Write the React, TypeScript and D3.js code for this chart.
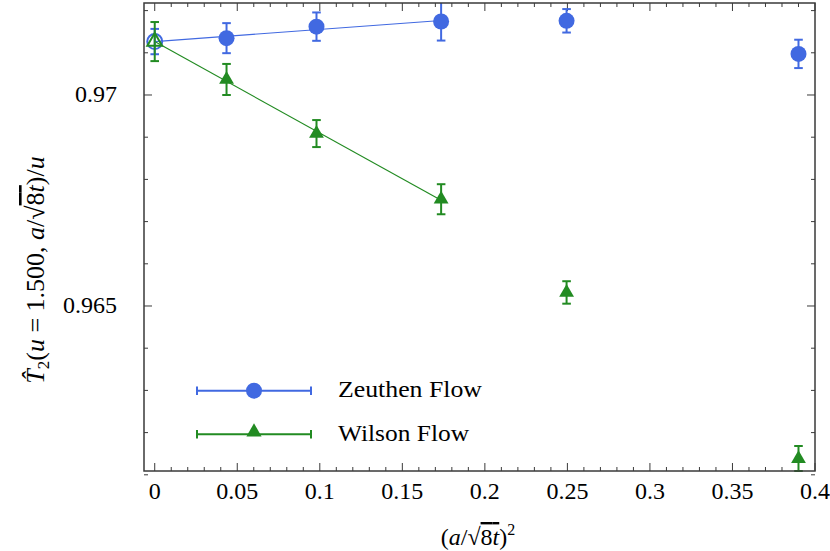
import React, { useEffect, useState } from "react";
import * as d3 from "d3";

const xVals = [0.0435, 0.098, 0.1735, 0.2495, 0.39];
const zeuthenY = [0.971347, 0.97162, 0.971741, 0.971758, 0.970974];
const zeuthenErr = [0.000356, 0.000336, 0.000451, 0.000278, 0.000336];
const wilsonY = [0.970368, 0.969086, 0.96753, 0.965321, 0.961378];
const wilsonErr = [0.000368, 0.00032, 0.000356, 0.000266, 0.000304];

const extrapX = 0;
const zeuthenExtrap = 0.971266;
const zeuthenExtrapErr = 0.0003;
const wilsonExtrap = 0.971266;
const wilsonExtrapErr = 0.000463;

const fitX = [0, 0.1735];
const zeuthenFit = [0.971266, 0.971765];
const wilsonFit = [0.971266, 0.967506];

const xTicks = [0, 0.05, 0.1, 0.15, 0.2, 0.25, 0.3, 0.35, 0.4];
const xTickLabels = ["0", "0.05", "0.1", "0.15", "0.2", "0.25", "0.3", "0.35", "0.4"];
const yTicks = [0.965, 0.97];
const yTickLabels = ["0.965", "0.97"];

const BLUE = "#4169e1";
const GREEN = "#228b22";
const AXIS = "#3a3a3a";
const FF = '"Liberation Serif"';

const L = 144, R = 815, T = 3, B = 471;

export default function App() {
  const [ready, setReady] = useState(0);
  useEffect(() => {
    const f = (document as any).fonts;
    if (f && f.load) {
      Promise.all([f.load('24px "Liberation Serif"'), f.load('italic 24px "Liberation Serif"')])
        .then(() => setReady(1))
        .catch(() => setReady(1));
    }
  }, []);

  const x = d3.scaleLinear().domain([-0.0065, 0.4]).range([L, R]);
  const y = d3.scaleLinear().domain([0.96109, 0.97218]).range([B, T]);
  const xMinor = d3.range(0, 0.4001, 0.01);
  const yMinor = d3.range(0.961, 0.9722, 0.001);
  const tri = d3.symbol(d3.symbolTriangle, 95)() as string;
  const triLeg = d3.symbol(d3.symbolTriangle, 100)() as string;
  const line = d3.line<number>().x((_, i) => x(fitX[i])).y((d) => y(d));

  const errBar = (cx: number, v: number, e: number, color: string, key: string) => {
    const y1 = Math.max(y(v + e), T);
    const y2 = Math.min(y(v - e), B);
    const X = x(cx);
    return (
      <g key={key} stroke={color} strokeWidth={2}>
        <line x1={X} x2={X} y1={y1} y2={y2} />
        {y(v + e) >= T && <line x1={X - 4.3} x2={X + 4.3} y1={y1} y2={y1} />}
        <line x1={X - 4.3} x2={X + 4.3} y1={y2} y2={y2} />
      </g>
    );
  };

  const s = { fontFamily: FF };

  return (
    <div style={{ position: "absolute", left: 0, top: 0, width: 830, height: 551 }}>
      <svg width={830} height={551} key={"s" + ready}>
        <defs>
          <clipPath id="plot">
            <rect x={L} y={T} width={R - L} height={B - T} />
          </clipPath>
        </defs>
        <g stroke={AXIS} strokeWidth={1}>
          {xMinor.map((t, i) => {
            const major = Math.abs(t / 0.05 - Math.round(t / 0.05)) < 1e-6;
            const len = major ? 8 : 4;
            return (
              <g key={"xm" + i}>
                <line x1={x(t)} x2={x(t)} y1={B} y2={B - len} />
                <line x1={x(t)} x2={x(t)} y1={T} y2={T + len} />
              </g>
            );
          })}
          {yMinor.map((t, i) => {
            const major = Math.abs(t / 0.005 - Math.round(t / 0.005)) < 1e-6;
            const len = major ? 8 : 4;
            return (
              <g key={"ym" + i}>
                <line x1={L} x2={L + len} y1={y(t)} y2={y(t)} />
                <line x1={R} x2={R - len} y1={y(t)} y2={y(t)} />
              </g>
            );
          })}
        </g>
        <g clipPath="url(#plot)" fill="none">
          <path d={line(zeuthenFit) as string} stroke={BLUE} strokeWidth={1.2} />
          <path d={line(wilsonFit) as string} stroke={GREEN} strokeWidth={1.2} />
        </g>
        {errBar(extrapX, zeuthenExtrap, zeuthenExtrapErr, BLUE, "ze")}
        <circle cx={x(extrapX)} cy={y(zeuthenExtrap)} r={7.5} fill="none" stroke={BLUE} strokeWidth={2} />
        {xVals.map((xv, i) => errBar(xv, zeuthenY[i], zeuthenErr[i], BLUE, "zb" + i))}
        {xVals.map((xv, i) => (
          <circle key={"zc" + i} cx={x(xv)} cy={y(zeuthenY[i])} r={8} fill={BLUE} />
        ))}
        {errBar(extrapX, wilsonExtrap, wilsonExtrapErr, GREEN, "we")}
        <path d={tri} transform={`translate(${x(extrapX)},${y(wilsonExtrap)})`} fill="none" stroke={GREEN} strokeWidth={2} />
        {xVals.map((xv, i) => errBar(xv, wilsonY[i], wilsonErr[i], GREEN, "wb" + i))}
        {xVals.map((xv, i) => (
          <path key={"wt" + i} d={tri} transform={`translate(${x(xv)},${y(wilsonY[i])})`} fill={GREEN} />
        ))}
        <rect x={L} y={T} width={R - L} height={B - T} fill="none" stroke={AXIS} strokeWidth={1.5} />
        {xTicks.map((t, i) => (
          <text key={"xl" + i} style={s} fontSize={24} x={x(t)} y={499} textAnchor="middle">{xTickLabels[i]}</text>
        ))}
        {yTicks.map((t, i) => (
          <text key={"yl" + i} style={s} fontSize={24} x={117} y={y(t) + 7.5} textAnchor="end">{yTickLabels[i]}</text>
        ))}
        <text style={s} x={478} y={545} fontSize={24} textAnchor="middle">
          (<tspan fontStyle="italic">a</tspan>/√<tspan textDecoration="overline">8<tspan fontStyle="italic">t</tspan></tspan>)<tspan dy={-10} fontSize={16}>2</tspan>
        </text>
        <text style={s} transform="translate(44,270) rotate(-90)" fontSize={26} textAnchor="middle">
          <tspan fontStyle="italic">T̂</tspan><tspan dy={5} fontSize={17}>2</tspan><tspan dy={-5}>(</tspan><tspan fontStyle="italic">u</tspan> = 1.500, <tspan fontStyle="italic">a</tspan>/√<tspan textDecoration="overline">8<tspan fontStyle="italic">t</tspan></tspan>)/<tspan fontStyle="italic">u</tspan>
        </text>
        <g stroke={BLUE} strokeWidth={2}>
          <line x1={197} x2={311} y1={390.7} y2={390.7} />
          <line x1={197} x2={197} y1={386.5} y2={395} />
          <line x1={311} x2={311} y1={386.5} y2={395} />
        </g>
        <circle cx={254} cy={390.7} r={8} fill={BLUE} />
        <text style={s} x={338} y={397} fontSize={24} textLength={144} lengthAdjust="spacingAndGlyphs">Zeuthen Flow</text>
        <g stroke={GREEN} strokeWidth={2}>
          <line x1={197} x2={311} y1={434.3} y2={434.3} />
          <line x1={197} x2={197} y1={430} y2={438.5} />
          <line x1={311} x2={311} y1={430} y2={438.5} />
        </g>
        <path d={triLeg} transform="translate(254,432)" fill={GREEN} />
        <text style={s} x={338} y={441} fontSize={24} textLength={131} lengthAdjust="spacingAndGlyphs">Wilson Flow</text>
      </svg>
    </div>
  );
}
